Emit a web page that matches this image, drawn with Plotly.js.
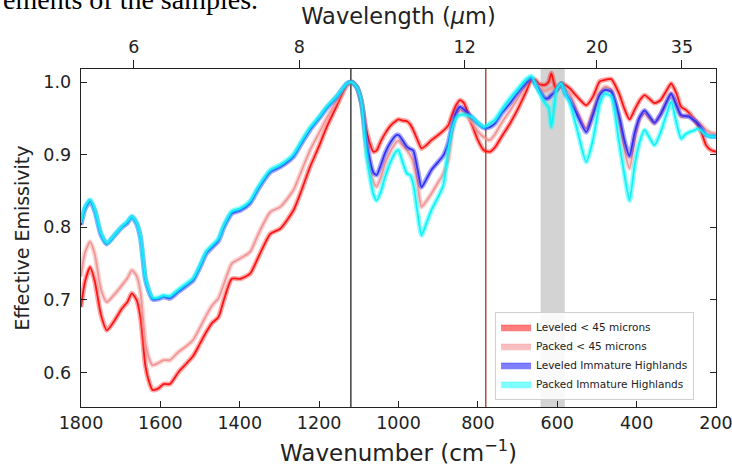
<!DOCTYPE html>
<html>
<head>
<meta charset="utf-8">
<script src="https://cdn.plot.ly/plotly-3.0.1.min.js"></script>
<style>html,body{margin:0;padding:0;background:#fff;} #chart{width:732px;height:470px;}</style>
</head>
<body>
<div id="chart"></div>
<script>
// Wavenumber grid (cm^-1)
const wavenumber = [1800,1790,1777,1765,1750,1735,1715,1697,1683,1672,1660,1650,1638,1630,1620,1605,1592,1576,1555,1535,1517,1500,1484,1470,1454,1440,1420,1399,1374,1353,1323,1298,1265,1245,1223,1200,1181,1155,1130,1118,1105,1093,1080,1063,1055,1045,1034,1020,1005,1000,990,979,971,963,952,942,930,917,900,887,875,865,855,845,835,816,800,785,770,757,740,719,700,680,665,655,645,631,622,615,608,602,590,580,568,550,527,510,493,480,464,445,430,418,405,392,380,368,355,340,325,313,300,288,277,267,257,246,235,225,212,200];

const leveledFine = [0.690,0.725,0.745,0.725,0.680,0.658,0.672,0.688,0.697,0.709,0.700,0.675,0.610,0.590,0.576,0.578,0.584,0.584,0.600,0.612,0.623,0.640,0.656,0.668,0.676,0.700,0.729,0.729,0.736,0.759,0.791,0.798,0.823,0.850,0.883,0.912,0.938,0.968,0.996,1.000,0.993,0.971,0.931,0.904,0.906,0.918,0.929,0.940,0.947,0.9485,0.947,0.946,0.942,0.934,0.920,0.9085,0.913,0.920,0.927,0.933,0.940,0.955,0.968,0.975,0.971,0.943,0.920,0.906,0.904,0.910,0.925,0.943,0.962,0.985,1.003,1.003,0.997,0.996,1.000,1.012,0.998,0.989,0.998,0.996,0.991,0.980,0.968,0.980,1.001,1.003,1.004,0.985,0.962,0.9485,0.962,0.975,0.982,0.977,0.971,0.975,0.988,0.998,0.985,0.966,0.962,0.957,0.950,0.941,0.928,0.913,0.906,0.904];

const packedFine = [0.732,0.765,0.780,0.762,0.715,0.697,0.708,0.720,0.730,0.741,0.733,0.710,0.642,0.622,0.610,0.613,0.617,0.617,0.628,0.636,0.645,0.662,0.679,0.692,0.702,0.722,0.750,0.757,0.766,0.791,0.821,0.828,0.851,0.877,0.906,0.930,0.950,0.975,0.996,1.000,0.993,0.971,0.905,0.862,0.856,0.868,0.888,0.905,0.918,0.919,0.913,0.906,0.900,0.890,0.860,0.828,0.836,0.8465,0.862,0.874,0.892,0.930,0.952,0.961,0.958,0.945,0.932,0.924,0.920,0.928,0.944,0.961,0.977,0.995,1.005,0.998,0.992,0.988,0.990,0.992,0.990,0.989,0.998,0.990,0.984,0.960,0.936,0.960,0.985,0.9935,0.990,0.950,0.905,0.881,0.920,0.950,0.957,0.950,0.943,0.955,0.972,0.984,0.968,0.952,0.953,0.954,0.950,0.945,0.940,0.934,0.930,0.929];

const leveledHighlands = [0.803,0.825,0.836,0.822,0.790,0.777,0.789,0.800,0.806,0.814,0.805,0.785,0.729,0.713,0.701,0.701,0.704,0.702,0.711,0.719,0.727,0.745,0.764,0.772,0.781,0.800,0.819,0.823,0.833,0.853,0.876,0.883,0.897,0.915,0.934,0.950,0.964,0.980,0.998,1.000,0.993,0.971,0.915,0.875,0.872,0.885,0.902,0.917,0.927,0.927,0.920,0.911,0.908,0.906,0.880,0.855,0.866,0.879,0.890,0.899,0.9155,0.940,0.958,0.966,0.962,0.952,0.943,0.937,0.938,0.943,0.957,0.971,0.985,0.998,1.005,0.997,0.988,0.9775,0.978,0.982,0.985,0.989,0.998,0.985,0.975,0.955,0.931,0.955,0.982,0.989,0.987,0.955,0.918,0.898,0.930,0.952,0.961,0.953,0.944,0.955,0.972,0.984,0.968,0.9545,0.953,0.952,0.948,0.943,0.935,0.927,0.925,0.925];

const packedHighlands = [0.806,0.828,0.838,0.824,0.792,0.778,0.790,0.801,0.808,0.815,0.806,0.786,0.731,0.715,0.703,0.703,0.706,0.705,0.714,0.722,0.730,0.748,0.767,0.775,0.784,0.803,0.822,0.826,0.836,0.856,0.879,0.886,0.900,0.918,0.937,0.952,0.966,0.981,0.998,1.000,0.993,0.971,0.897,0.845,0.837,0.848,0.869,0.890,0.905,0.906,0.890,0.874,0.872,0.860,0.820,0.789,0.805,0.8235,0.842,0.858,0.905,0.935,0.950,0.955,0.955,0.952,0.944,0.938,0.943,0.948,0.962,0.9775,0.990,1.003,1.008,0.997,0.985,0.971,0.965,0.938,0.965,0.989,0.998,0.984,0.971,0.935,0.890,0.920,0.970,0.984,0.980,0.920,0.870,0.837,0.885,0.918,0.934,0.924,0.913,0.930,0.955,0.973,0.945,0.922,0.928,0.931,0.933,0.936,0.932,0.927,0.925,0.925];

const seriesNames = ['Leveled < 45 microns','Packed < 45 microns','Leveled Immature Highlands','Packed Immature Highlands'];
const seriesValues = [leveledFine, packedFine, leveledHighlands, packedHighlands];

// Top axis: wavelength ticks (micrometres)
const wavelengthTicks = [6, 8, 12, 20, 35];
// Reference lines and shaded band (wavenumber)
const referenceLines = [1120, 780];
const shadedBand = [642, 581];

const coreColors = ['rgb(255,20,20)','rgb(240,150,150)','rgb(50,50,245)','rgb(20,240,245)'];
const haloColors = ['rgba(255,0,0,0.35)','rgba(240,128,128,0.35)','rgba(0,0,255,0.35)','rgba(0,255,255,0.45)'];
const legendFill = ['rgba(255,0,0,0.5)','rgba(240,128,128,0.5)','rgba(0,0,255,0.5)','rgba(0,255,255,0.5)'];

const traces = [];
seriesValues.forEach((vals, i) => {
  traces.push({x: wavenumber, y: vals, type: 'scatter', mode: 'lines', showlegend: false,
    line: {color: haloColors[i], width: 5, shape: 'spline', smoothing: 0.6}, hoverinfo: 'skip'});
  traces.push({x: wavenumber, y: vals, type: 'scatter', mode: 'lines', showlegend: false,
    line: {color: coreColors[i], width: 1.8, shape: 'spline', smoothing: 0.6}, name: seriesNames[i]});
});
seriesNames.forEach((n, i) => {
  traces.push({x: [null], y: [null], type: 'scatter', mode: 'lines', name: n, fill: 'toself',
    fillcolor: legendFill[i], line: {color: legendFill[i], width: 1}});
});
// invisible trace for the top axis
traces.push({x: [wavenumber[0], wavenumber[wavenumber.length-1]], y: [null, null], xaxis: 'x2', yaxis: 'y',
  type: 'scatter', mode: 'lines', showlegend: false, hoverinfo: 'skip'});

const shapes = [
  {type: 'rect', xref: 'x', yref: 'paper', x0: shadedBand[0], x1: shadedBand[1], y0: 0, y1: 1,
   fillcolor: 'rgb(211,211,211)', line: {width: 0}, layer: 'below'},
  {type: 'line', xref: 'x', yref: 'paper', x0: referenceLines[0], x1: referenceLines[0], y0: 0, y1: 1,
   line: {color: '#222', width: 1.3}, layer: 'below'},
  {type: 'line', xref: 'x', yref: 'paper', x0: referenceLines[1], x1: referenceLines[1], y0: 0, y1: 1,
   line: {color: 'rgb(150,60,40)', width: 1.3}, layer: 'below'}
];

const tickFont = {family: 'DejaVu Sans', size: 17.5, color: '#222'};
const layout = {
  width: 732, height: 470,
  margin: {l: 80.5, r: 15.5, t: 69, b: 63},
  paper_bgcolor: '#fff', plot_bgcolor: '#fff',
  font: {family: 'DejaVu Sans', color: '#222'},
  showlegend: true,
  legend: {x: 0.652, y: 0.282, xanchor: 'left', yanchor: 'top', bgcolor: 'rgba(255,255,255,0.85)',
    bordercolor: '#d0d0d0', borderwidth: 1, font: {family: 'DejaVu Sans', size: 10.5, color: '#222'},
    tracegroupgap: 0},
  xaxis: {range: [1800, 200], autorange: false, tickvals: [1800,1600,1400,1200,1000,800,600,400,200],
    ticks: 'inside', ticklen: 6, tickcolor: '#222', showline: true, linecolor: '#222', linewidth: 1.3,
    mirror: true, showgrid: false, zeroline: false, tickfont: tickFont, ticklabelstandoff: 0,
    ticklabeloverflow: 'allow',
    title: {text: 'Wavenumber (cm<sup>\u22121</sup>)', font: {family: 'DejaVu Sans', size: 23, color: '#222'}, standoff: 12}},
  xaxis2: {overlaying: 'x', side: 'top', range: [1800, 200], autorange: false,
    tickvals: wavelengthTicks.map(w => 10000 / w), ticktext: wavelengthTicks.map(String),
    ticks: 'outside', ticklen: 8, tickcolor: '#222', showline: false, showgrid: false, zeroline: false,
    tickfont: tickFont, ticklabeloverflow: 'allow',
    title: {text: 'Wavelength (<i>\u03bc</i>m)', font: {family: 'DejaVu Sans', size: 22.5, color: '#222'}, standoff: 6}},
  yaxis: {range: [0.5524, 1.018], autorange: false, tickvals: [0.6,0.7,0.8,0.9,1.0],
    ticktext: ['0.6','0.7','0.8','0.9','1.0'], ticks: 'inside', ticklen: 6, tickcolor: '#222',
    showline: true, linecolor: '#222', linewidth: 1.3, mirror: 'ticks', showgrid: false, zeroline: false,
    tickfont: tickFont, ticklabelstandoff: 5,
    title: {text: 'Effective Emissivity', font: {family: 'DejaVu Sans', size: 19, color: '#222'}, standoff: 8}},
  shapes: shapes,
  annotations: [{text: 'ements of the samples.', xref: 'paper', yref: 'paper', x: -0.1266, y: 1.205,
    xanchor: 'left', yanchor: 'middle', showarrow: false,
    font: {family: 'Liberation Serif', size: 28, color: '#000'}}]
};

Plotly.newPlot('chart', traces, layout, {staticPlot: true, displayModeBar: false});
</script>
</body>
</html>
